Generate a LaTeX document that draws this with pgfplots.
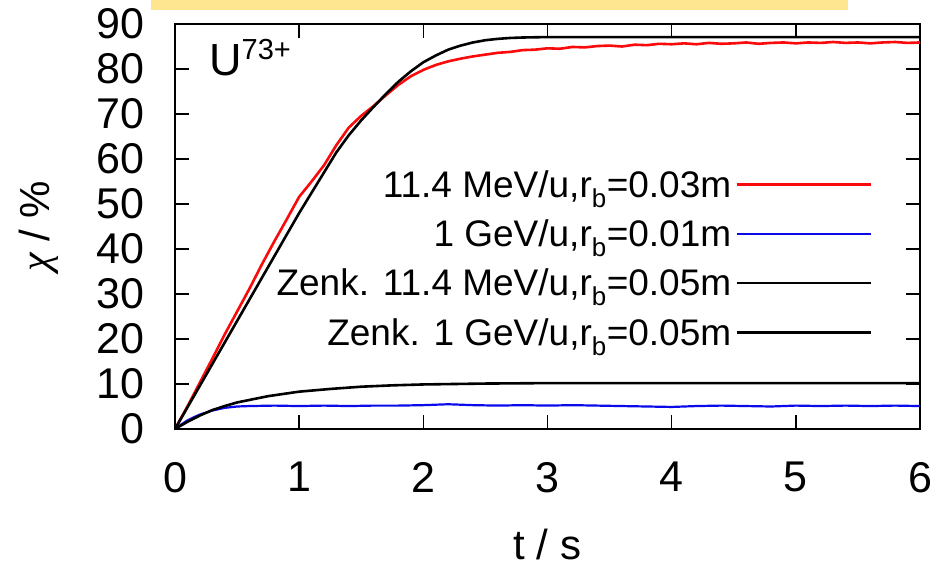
\documentclass[border=0pt]{standalone}
\usepackage{fontspec}
\setmainfont{Liberation Sans}
\newfontfamily\greekfont{Liberation Serif}
\usepackage{pgfplots}
\pgfplotsset{compat=1.18}
\definecolor{boxyellow}{RGB}{254,229,143}
\definecolor{simred}{RGB}{250,10,10}
\definecolor{simblue}{RGB}{10,10,235}
\begin{document}
\begin{tikzpicture}
\useasboundingbox (0,0) rectangle (935bp,569bp);
\fill[boxyellow] (151bp,559bp) rectangle (848bp,570bp);
\begin{axis}[
  at={(175bp,140bp)}, anchor=south west,
  width=745bp, height=405bp, scale only axis,
  xmin=0, xmax=6, ymin=0, ymax=90,
  xtick={0,1,2,3,4,5,6}, ytick={0,10,20,30,40,50,60,70,80,90},
  tick align=inside, tick pos=both,
  major tick length=14bp,
  every tick/.style={black, line width=1.6bp},
  axis line style={line width=2.2bp},
  /pgf/number format/assume math mode=true,
  ticklabel style={font=\fontsize{43bp}{43bp}\selectfont},
  yticklabel style={inner sep=0pt, xshift=-30bp},
  xticklabel style={inner sep=0pt, yshift=-33bp},
  xlabel={t / s},
  ylabel={{\greekfont\itshape χ} / \%},
  label style={font=\fontsize{42bp}{42bp}\selectfont},
  xlabel style={at={(axis description cs:0.5,-0.322)}, anchor=base},
  ylabel style={at={(axis description cs:-0.168,0.5)}, anchor=base, rotate=0},
  legend style={draw=none, fill=none, inner sep=0pt,
    at={(axis description cs:0.9356,0.644)}, anchor=north east,
    font=\fontsize{37bp}{37bp}\selectfont, row sep=17bp, column sep=2bp},
  legend cell align=right,
  legend plot pos=right,
  legend image code/.code={\draw[line width=2.6bp,#1] (0bp,0bp) -- (134bp,0bp);},
]
% red: simulation 11.4 MeV/u
\addplot[simred, line width=2.6bp] coordinates {
(0,0) (0.1,5.0) (0.2,10.3) (0.3,15.6) (0.4,21.0) (0.5,26.1) (0.6,31.2) (0.7,36.6)
(0.8,41.7) (0.9,46.6) (1.0,51.6) (1.05,53.3) (1.1,55.0) (1.2,58.6) (1.3,63.1)
(1.4,67.0) (1.5,69.6) (1.6,71.8) (1.7,74.2) (1.8,76.5) (1.9,78.4) (2.0,79.8)
(2.1,80.9) (2.2,81.7) (2.3,82.3) (2.4,82.8) (2.5,83.2) (2.6,83.6) (2.7,83.8)
(2.8,84.2) (2.9,84.3) (3.0,84.6) (3.1,84.5) (3.2,84.9) (3.3,84.8) (3.4,85.1)
(3.5,85.2) (3.6,85.0) (3.7,85.4) (3.8,85.3) (3.9,85.6) (4.0,85.5) (4.1,85.7)
(4.2,85.5) (4.3,85.8) (4.4,85.6) (4.5,85.7) (4.6,85.9) (4.7,85.6) (4.8,85.8)
(4.9,85.9) (5.0,85.7) (5.1,85.9) (5.2,85.8) (5.3,86.0) (5.4,85.8) (5.5,85.9)
(5.6,85.7) (5.7,85.9) (5.8,86.0) (5.9,85.8) (6.0,85.9)
};
\addlegendentry{11.4 MeV/u,r\textsubscript{b}=0.03m}
% blue: simulation 1 GeV/u
\addplot[simblue, line width=2.2bp] coordinates {
(0,0) (0.05,1.0) (0.1,1.9) (0.15,2.6) (0.2,3.2) (0.3,4.1) (0.4,4.7) (0.5,5.0)
(0.6,5.1) (0.8,5.2) (1.0,5.1) (1.2,5.2) (1.4,5.1) (1.6,5.2) (1.8,5.2) (2.0,5.3)
(2.2,5.5) (2.4,5.3) (2.6,5.2) (2.8,5.3) (3.0,5.2) (3.2,5.3) (3.4,5.2) (3.6,5.1)
(3.8,5.0) (4.0,4.9) (4.2,5.1) (4.4,5.2) (4.6,5.1) (4.8,5.0) (5.0,5.2) (5.2,5.1)
(5.4,5.2) (5.6,5.1) (5.8,5.2) (6.0,5.1)
};
\addlegendentry{1 GeV/u,r\textsubscript{b}=0.01m}
% black: Zenkevich 11.4 MeV/u
\addplot[black, line width=2.6bp] coordinates {
(0,0) (0.25,12.0) (0.5,24.0) (0.75,36.0) (1.0,48.0) (1.2,57.0) (1.3,61.5)
(1.4,65.3) (1.5,68.6) (1.6,71.6) (1.7,74.5) (1.8,77.2) (1.9,79.5) (2.0,81.5)
(2.1,83.0) (2.2,84.3) (2.3,85.2) (2.4,85.9) (2.5,86.4) (2.6,86.7) (2.7,86.9)
(2.8,87.0) (3.0,87.1) (4.0,87.1) (5.0,87.1) (6.0,87.1)
};
\addlegendentry{Zenk. 11.4 MeV/u,r\textsubscript{b}=0.05m}
% black: Zenkevich 1 GeV/u
\addplot[black, line width=2.6bp] coordinates {
(0,0) (0.1,1.6) (0.2,3.0) (0.3,4.2) (0.4,5.1) (0.5,5.9) (0.75,7.3) (1.0,8.3)
(1.25,8.9) (1.5,9.4) (1.75,9.7) (2.0,9.9) (2.5,10.1) (3.0,10.2) (4.0,10.2)
(5.0,10.2) (6.0,10.2)
};
\addlegendentry{Zenk. 1 GeV/u,r\textsubscript{b}=0.05m}
\node[anchor=base west, inner sep=0pt, font=\fontsize{45bp}{45bp}\selectfont]
  at (axis description cs:0.0456,0.874) {U\raisebox{16bp}{\fontsize{29bp}{29bp}\selectfont 73+}};
\end{axis}
\end{tikzpicture}
\end{document}
